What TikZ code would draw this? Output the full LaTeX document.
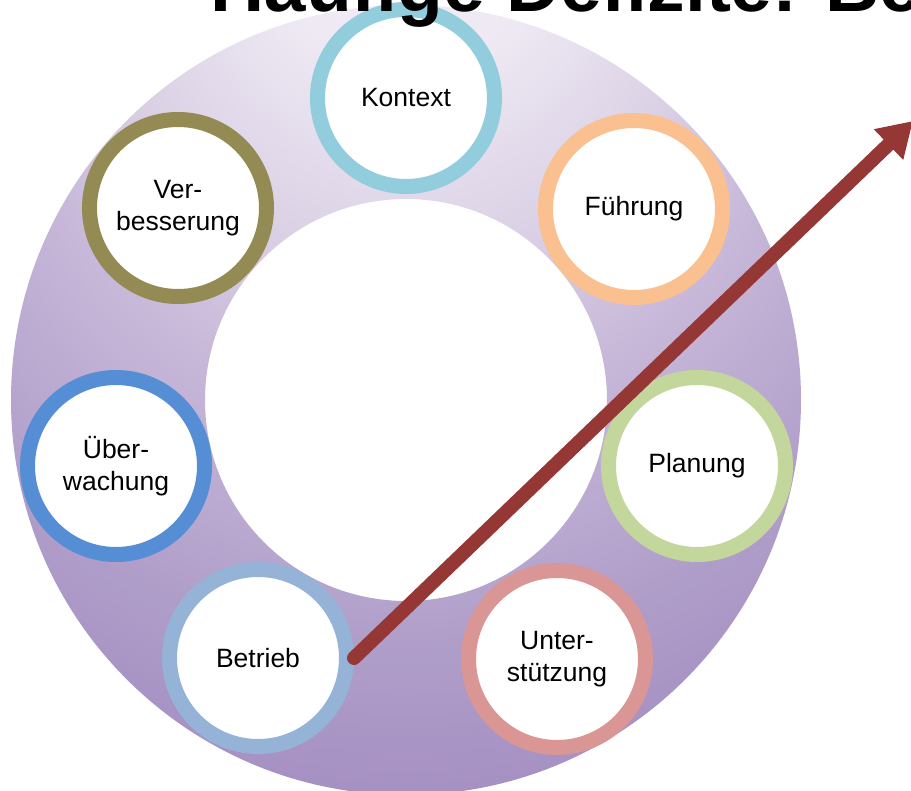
\documentclass[tikz,border=0pt]{standalone}
\usepackage{fontspec}
\setmainfont{Liberation Sans}
\usetikzlibrary{arrows.meta}
\definecolor{arrowred}{RGB}{149,55,53}
\definecolor{cKontext}{RGB}{146,205,221}
\definecolor{cFuehrung}{RGB}{250,192,144}
\definecolor{cPlanung}{RGB}{195,214,155}
\definecolor{cUnter}{RGB}{217,150,148}
\definecolor{cBetrieb}{RGB}{149,179,215}
\definecolor{cUeber}{RGB}{85,142,213}
\definecolor{cVerb}{RGB}{148,138,84}
\pgfdeclareradialshading{ringshade}{\pgfpoint{0bp}{35bp}}{rgb(0bp)=(0.96,0.95,0.98); rgb(10bp)=(0.93,0.91,0.95); rgb(18bp)=(0.86,0.82,0.90); rgb(25bp)=(0.78,0.72,0.85); rgb(35bp)=(0.69,0.62,0.79); rgb(45bp)=(0.63,0.54,0.75); rgb(55bp)=(0.58,0.47,0.70); rgb(65bp)=(0.55,0.44,0.67); rgb(80bp)=(0.53,0.42,0.65)}
\begin{document}
\begin{tikzpicture}[x=1pt,y=-1pt,
  stage/.style={circle, draw, fill=white, line width=15pt, minimum size=177pt, inner sep=0pt, align=center, font=\fontsize{26.5}{32}\selectfont},
  cyclearrow/.style={draw=arrowred, line width=14pt, line cap=round, -{Triangle[length=34pt,width=40pt]}}]
\useasboundingbox (0,0) rectangle (911,791);
\clip (0,0) rectangle (911,791);
\fill[white] (0,0) rectangle (911,791);
\coordinate (c) at (406,400);
\shade[shading=ringshade, even odd rule] (c) circle[radius=395pt] (c) circle[radius=201pt];
\node[stage, draw=cKontext] (kontext) at (406,98) {Kontext};
\node[stage, draw=cFuehrung] (fuehrung) at (634,209) {Führung};
\node[stage, draw=cPlanung] (planung) at (697,466) {Planung};
\node[stage, draw=cUnter] (unter) at (557,659) {Unter-\\stützung};
\node[stage, draw=cBetrieb] (betrieb) at (258,658) {Betrieb};
\node[stage, draw=cUeber] (ueber) at (116,466) {Über-\\wachung};
\node[stage, draw=cVerb] (verb) at (178,208) {Ver-\\besserung};
\coordinate (tip) at (913,121);
\draw[cyclearrow] (betrieb.east) -- (tip);
\node[anchor=base west, font=\fontsize{75}{90}\selectfont\bfseries, inner sep=0pt] (title) at (210,12) {Häufige Defizite: Be};
\end{tikzpicture}
\end{document}
